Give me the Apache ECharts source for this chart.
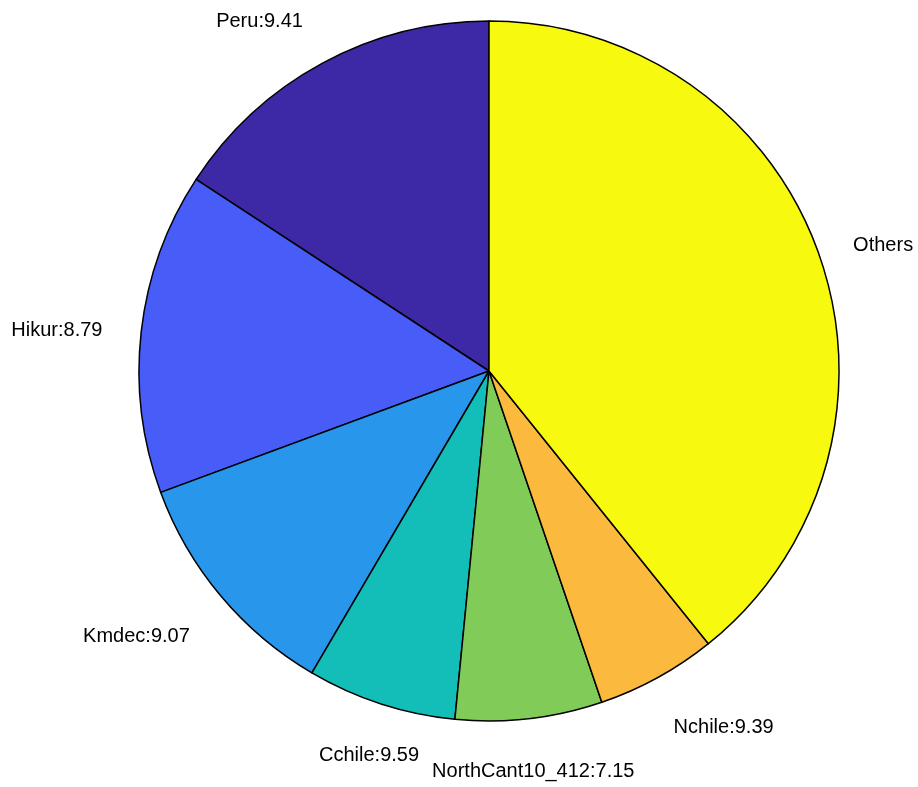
<!DOCTYPE html>
<html>
<head>
<meta charset="utf-8">
<script src="https://cdn.jsdelivr.net/npm/echarts@6/dist/echarts.min.js"></script>
<style>
html,body{margin:0;padding:0;background:#fff;}
#chart{width:918px;height:787px;}
</style>
</head>
<body>
<div id="chart"></div>
<script>
// Data (counterclockwise from 12 o'clock)
const categories = ['Peru', 'Hikur', 'Kmdec', 'Cchile', 'NorthCant10_412', 'Nchile', 'Others'];
const labelTexts = ['Peru:9.41', 'Hikur:8.79', 'Kmdec:9.07', 'Cchile:9.59', 'NorthCant10_412:7.15', 'Nchile:9.39', 'Others'];
const values = [15.78, 14.86, 10.92, 6.89, 6.78, 5.56, 39.22];

// Styles
const colors = ['#3D28A6', '#485CF8', '#2896EA', '#14BEB8', '#81CC59', '#FBBA3E', '#F7F90F'];
const aligns = ['right', 'right', 'right', 'center', 'center', 'left', 'left'];
const vAligns = ['bottom', 'middle', 'top', 'top', 'top', 'top', 'middle'];
const labelDx = [2, 1, 1, 4, -5, -6, -4];
const labelDy = [-1, 3, 8, 8, 8, 9, 2];

const chart = echarts.init(document.getElementById('chart'), null, {renderer: 'canvas'});
chart.setOption({
  backgroundColor: '#ffffff',
  animation: false,
  series: [{
    type: 'pie',
    center: [489, 371],
    radius: 350,
    startAngle: 90,
    clockwise: false,
    avoidLabelOverlap: false,
    data: categories.map((c, i) => ({
      name: c,
      value: values[i],
      itemStyle: {color: colors[i]},
      label: {formatter: labelTexts[i]}
    })),
    itemStyle: {borderColor: '#000000', borderWidth: 1.5},
    label: {
      show: true,
      position: 'outside',
      color: '#000000',
      fontFamily: 'Liberation Sans, Arial, sans-serif',
      fontSize: 20
    },
    labelLine: {show: false, length: 35, length2: 0},
    labelLayout: function (p) {
      const i = p.dataIndex;
      return {align: aligns[i], verticalAlign: vAligns[i], dx: labelDx[i], dy: labelDy[i]};
    },
    emphasis: {disabled: true}
  }]
});
</script>
</body>
</html>
